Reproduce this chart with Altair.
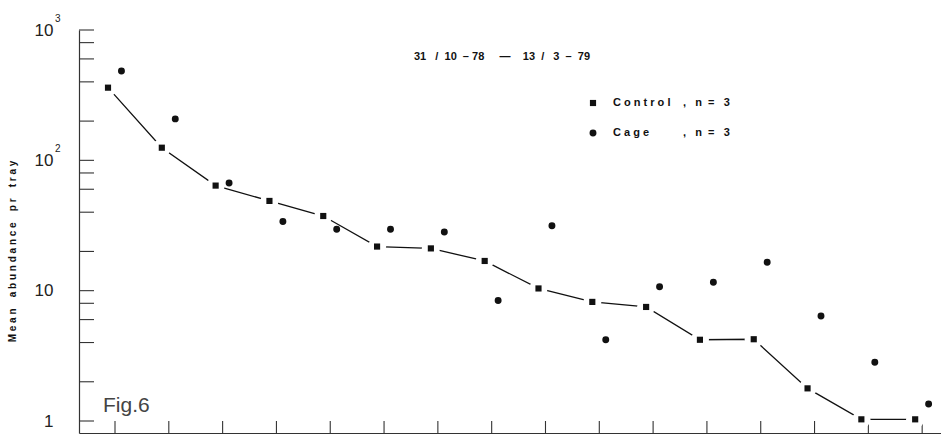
import altair as alt
import pandas as pd

# Sampling occasions (1..16) and mean abundance per tray
samples = list(range(1, 17))
control = [361, 125, 64, 48.8, 37.4, 21.8, 21.1, 16.9, 10.4, 8.2, 7.5, 4.2, 4.24, 1.78, 1.03, 1.03]
cage = [485, 208, 67, 33.9, 29.6, 29.6, 28.2, 8.4, 31.5, 4.2, 10.7, 11.6, 16.5, 6.4, 2.82, 1.35]

# Axis tick positions
y_ticks = [1, 2, 4, 6, 8, 10, 20, 40, 60, 80, 100, 200, 400, 600, 800, 1000]
y_labels = [1, 10, 100, 1000]
x_ticks = samples

W, H = 862, 403
FONT = "Liberation Sans"
NB = "\u00a0"
AXIS_COLOR = "#333"


def spaced(s, gap=1, word_gap=4):
    """Spread letters apart like stencilled lettering."""
    return (NB * word_gap).join((NB * gap).join(w) for w in s.split(" "))


df_c = pd.DataFrame({"sample": samples, "value": control})
df_g = pd.DataFrame({"sample": samples, "value": cage})

x_scale = alt.Scale(domain=[0.331, 16.35], nice=False, zero=False)
y_scale = alt.Scale(type="log", domain=[0.809, 1000], nice=False)

x_axis = alt.Axis(labels=False, ticks=False, grid=False, title=None,
                  domainColor=AXIS_COLOR, domainWidth=1.2)
y_axis = alt.Axis(values=y_labels, ticks=False, grid=False,
                  labelExpr="datum.value >= 10 ? '10' : '1'",
                  labelFont=FONT, labelFontSize=17, labelColor="#222",
                  labelPadding=26, labelAlign="right", labelBaseline="middle",
                  domainColor=AXIS_COLOR, domainWidth=1.2,
                  title=spaced("Mean abundance pr tray"), titleFont=FONT,
                  titleFontSize=10, titleFontWeight="bold", titleColor="#111",
                  titleAngle=270, titleX=-67, titleY=221, titleAlign="center",
                  titleBaseline="middle")


def X(field):
    return alt.X(field, scale=x_scale, axis=x_axis)


def Y(field):
    return alt.Y(field, scale=y_scale, axis=y_axis)


# control markers sit a little left of each sample tick, cage markers a little right
base_c = alt.Chart(df_c).transform_calculate(xs="datum.sample - 0.13")
base_g = alt.Chart(df_g).transform_calculate(xs="datum.sample + 0.12")

line = base_c.mark_line(color="#111", strokeWidth=1.3).encode(x=X("xs:Q"), y=Y("value:Q"))

# white collars leave a small gap between the line and each square
halo = base_c.mark_point(shape="circle", filled=True, fill="white", stroke="white",
                         strokeWidth=0, opacity=1, fillOpacity=1, size=330).encode(
    x=X("xs:Q"), y=Y("value:Q"))

squares = base_c.mark_square(color="#111", opacity=1, size=38).encode(x=X("xs:Q"), y=Y("value:Q"))

dots = base_g.mark_circle(color="#111", opacity=1, size=48).encode(x=X("xs:Q"), y=Y("value:Q"))

# inward-pointing tick marks
yt = alt.Chart(pd.DataFrame({"t": y_ticks})).mark_rule(color=AXIS_COLOR, strokeWidth=1.1).encode(
    y=Y("t:Q"), x=alt.value(0), x2=alt.value(15))
xt = alt.Chart(pd.DataFrame({"t": x_ticks})).mark_rule(color=AXIS_COLOR, strokeWidth=1.1).encode(
    x=X("t:Q"), y=alt.value(H - 12), y2=alt.value(H))

# exponents on the decade labels
exps = alt.Chart(pd.DataFrame({"v": [1000, 100], "e": ["3", "2"]})).mark_text(
    font=FONT, fontSize=10, color="#222", align="left", baseline="middle", dy=-11).encode(
    y=Y("v:Q"), x=alt.value(-24), text="e:N")

fig = alt.Chart(pd.DataFrame({"t": ["Fig.6"]})).mark_text(
    font=FONT, fontSize=21, color="#444", align="left", baseline="middle").encode(
    x=alt.value(24), y=alt.value(376), text="t:N")

period_txt = ("31" + NB * 3 + "/" + NB * 2 + "10" + NB * 2 + "–" + NB + "78" + NB * 5 + "—"
              + NB * 4 + "13" + NB * 2 + "/" + NB * 3 + "3" + NB * 2 + "–" + NB * 2 + "79")
period = alt.Chart(pd.DataFrame({"t": [period_txt]})).mark_text(
    font=FONT, fontSize=11, fontWeight="bold", color="#111", align="center", baseline="middle").encode(
    x=alt.value(423), y=alt.value(27), text="t:N")

# key
key_sq = alt.Chart(pd.DataFrame({"k": [0]})).mark_square(
    color="#111", opacity=1, size=38).encode(x=alt.value(514), y=alt.value(73))
key_ci = alt.Chart(pd.DataFrame({"k": [0]})).mark_circle(
    color="#111", opacity=1, size=48).encode(x=alt.value(514), y=alt.value(103))


def key_text(txt, x, y):
    return alt.Chart(pd.DataFrame({"t": [txt]})).mark_text(
        font=FONT, fontSize=11, fontWeight="bold", color="#111",
        align="left", baseline="middle").encode(x=alt.value(x), y=alt.value(y), text="t:N")


n_txt = "," + NB * 3 + "n" + NB * 2 + "=" + NB * 3 + "3"
keys = [
    key_text(spaced("Control"), 534, 73),
    key_text(n_txt, 604, 73),
    key_text(spaced("Cage"), 534, 103),
    key_text(n_txt, 604, 103),
]

chart = alt.layer(
    yt, xt, line, halo, squares, dots, exps, fig, period, key_sq, key_ci, *keys
).properties(
    width=W, height=H,
    padding={"left": 79, "top": 30, "right": 0, "bottom": 7},
    autosize=alt.AutoSizeParams(type="none"),
    background="white",
).configure_view(stroke=None)

chart.save("out.html", embed_options={"renderer": "svg", "actions": False})
